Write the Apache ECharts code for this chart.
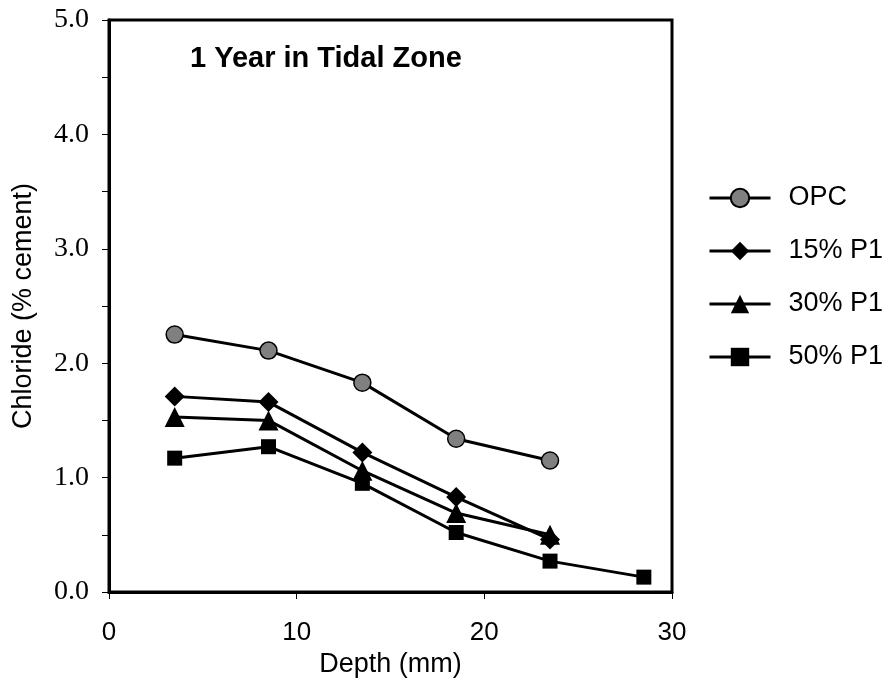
<!DOCTYPE html>
<html>
<head>
<meta charset="utf-8">
<script src="https://cdn.jsdelivr.net/npm/echarts@6/dist/echarts.min.js"></script>
<style>
  html, body { margin: 0; padding: 0; background: #fff; }
  #chart { width: 893px; height: 685px; }
</style>
</head>
<body>
<div id="chart"></div>
<script>
// Chloride profiles after one year of tidal exposure
const depth = [3.5, 8.5, 13.5, 18.5, 23.5, 28.5];
const opc   = [2.25, 2.11, 1.83, 1.34, 1.15];
const p1_15 = [1.71, 1.66, 1.22, 0.83, 0.46];
const p1_30 = [1.53, 1.50, 1.06, 0.69, 0.50];
const p1_50 = [1.17, 1.27, 0.95, 0.52, 0.27, 0.13];
const seriesNames = ['OPC', '15% P1', '30% P1', '50% P1'];
const xTicks = [0, 10, 20, 30];
const yTicks = [0, 1, 2, 3, 4, 5];

const pairs = vals => vals.map((v, i) => [depth[i], v]);

const sans = 'Arial, "Liberation Sans", sans-serif';
const serif = '"Times New Roman", "Liberation Serif", serif';

function lineSeries(name, vals, symbol, size, color) {
  return {
    name: name,
    type: 'line',
    data: pairs(vals),
    symbol: symbol,
    symbolSize: size,
    showAllSymbol: true,
    lineStyle: { color: '#000', width: 3 },
    itemStyle: { color: color, borderColor: '#000', borderWidth: symbol === 'circle' ? 1.5 : 0 },
    emphasis: { disabled: true },
    z: 3
  };
}

const chart = echarts.init(document.getElementById('chart'), null, { renderer: 'canvas' });
chart.setOption({
  animation: false,
  backgroundColor: '#fff',
  title: {
    text: '1 Year in Tidal Zone',
    left: 185,
    top: 39,
    textStyle: { fontFamily: sans, fontSize: 29, fontWeight: 'bold', color: '#000' }
  },
  legend: {
    orient: 'vertical',
    left: 703,
    top: 179,
    itemWidth: 61,
    itemHeight: 23,
    itemGap: 25,
    data: seriesNames,
    lineStyle: { width: 3, color: '#000' },
    textStyle: { fontFamily: sans, fontSize: 27, lineHeight: 28, color: '#000', padding: [0, 0, 0, 13] }
  },
  grid: {
    left: 109, top: 20, right: 221, bottom: 93,
    show: true, borderColor: '#000', borderWidth: 3, backgroundColor: 'transparent'
  },
  xAxis: {
    type: 'value',
    min: xTicks[0], max: xTicks[xTicks.length - 1], interval: 10,
    name: 'Depth (mm)',
    nameLocation: 'middle',
    nameGap: 58,
    nameTextStyle: { fontFamily: sans, fontSize: 27, color: '#000' },
    axisLine: { lineStyle: { color: '#000', width: 3 } },
    axisTick: { show: true, length: 7, lineStyle: { color: '#000', width: 1 } },
    axisLabel: { fontFamily: sans, fontSize: 26, color: '#000', margin: 28 },
    splitLine: { show: false }
  },
  yAxis: {
    type: 'value',
    min: yTicks[0], max: yTicks[yTicks.length - 1], interval: 1,
    name: 'Chloride (% cement)',
    nameLocation: 'middle',
    nameGap: 72,
    nameTextStyle: { fontFamily: sans, fontSize: 27, color: '#000' },
    axisLine: { lineStyle: { color: '#000', width: 3 } },
    axisTick: { show: true, length: 7, lineStyle: { color: '#000', width: 1 } },
    minorTick: { show: true, splitNumber: 2, length: 7, lineStyle: { color: '#000', width: 1 } },
    axisLabel: { fontFamily: serif, fontSize: 28, color: '#000', margin: 20,
                 formatter: v => v.toFixed(1) },
    splitLine: { show: false },
    minorSplitLine: { show: false }
  },
  series: [
    lineSeries(seriesNames[0], opc, 'circle', 17, '#808080'),
    lineSeries(seriesNames[1], p1_15, 'diamond', 20, '#000'),
    lineSeries(seriesNames[2], p1_30, 'triangle', 20, '#000'),
    lineSeries(seriesNames[3], p1_50, 'rect', 15, '#000')
  ]
});
</script>
</body>
</html>
